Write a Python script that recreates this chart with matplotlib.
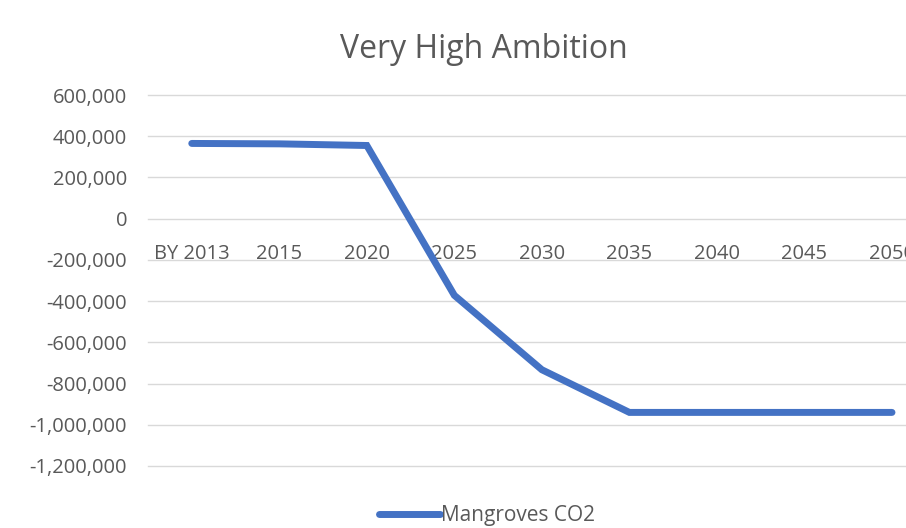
import matplotlib.pyplot as plt
from matplotlib.ticker import FuncFormatter

plt.rcParams["font.family"] = ["Open Sans", "DejaVu Sans"]

# data
categories = ["BY 2013", "2015", "2020", "2025", "2030", "2035", "2040", "2045", "2050"]
mangroves_co2 = [365000, 363000, 355000, -372000, -733000, -940000, -940000, -940000, -940000]
series_name = "Mangroves CO2"
y_ticks = [-1200000, -1000000, -800000, -600000, -400000, -200000, 0,
           200000, 400000, 600000]

TEXT = "#595959"
GRID = "#d9d9d9"
BLUE = "#4472c4"

fig = plt.figure(figsize=(9.06, 5.28), dpi=100)
ax = fig.add_axes([148 / 906, 1 - 466 / 528, 1 - 148 / 906, (466 - 95) / 528])

x = list(range(len(categories)))
line, = ax.plot(x, mangroves_co2, color=BLUE, linewidth=5.0,
                solid_capstyle="round", solid_joinstyle="miter",
                label=series_name, zorder=3)

ax.set_ylim(y_ticks[0], y_ticks[-1])
ax.set_yticks(y_ticks)
ax.yaxis.set_major_formatter(FuncFormatter(lambda v, p: f"{v:,.0f}"))
# right edge of the plot area is cropped, as in the source image
ax.set_xlim(-0.5, 8.16)
ax.set_xticks(x)
ax.set_xticklabels(categories)

ax.grid(axis="y", color=GRID, linewidth=1.0, zorder=0)
for gl in ax.get_ygridlines():
    gl.set_clip_on(False)
for s in ax.spines.values():
    s.set_visible(False)
ax.spines["bottom"].set_position(("data", 0))

ax.tick_params(axis="both", length=0, labelsize=14.5, labelcolor=TEXT)
ax.tick_params(axis="y", pad=15)
ax.tick_params(axis="x", pad=18)

fig.text(0.534, 1 - 49 / 528, "Very High Ambition", ha="center", va="center",
         fontsize=23, color=TEXT)

fig.legend(handles=[line], loc="center", bbox_to_anchor=(487 / 906, 1 - 516 / 528),
           frameon=False, fontsize=15, labelcolor=TEXT, handlelength=2.9,
           handletextpad=0.05)

fig.savefig("out.png", dpi=100, facecolor="white")
